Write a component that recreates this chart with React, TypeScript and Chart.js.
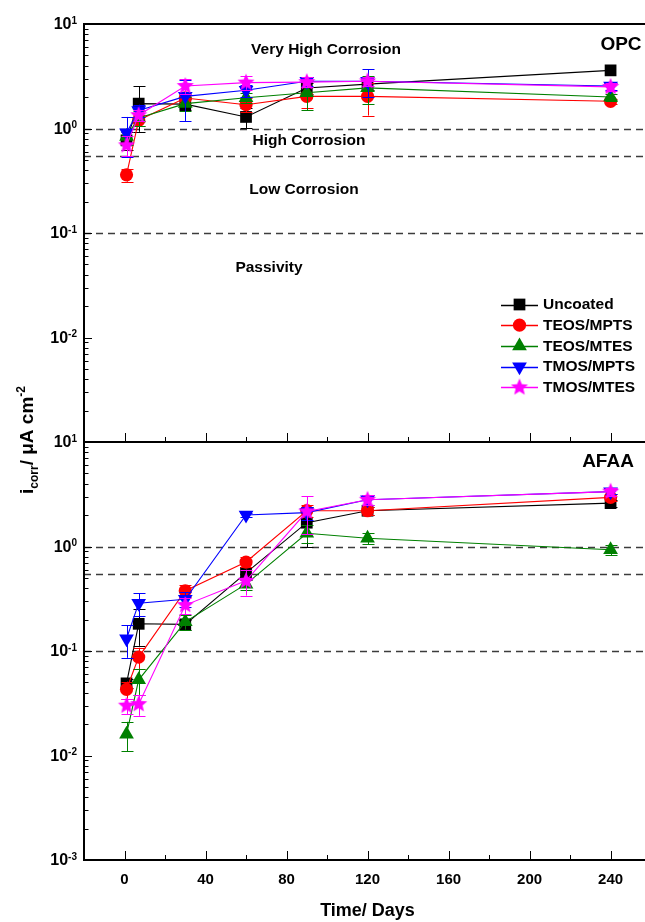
import React, { useEffect, useRef } from 'react';
import { Chart, registerables } from 'chart.js';

Chart.register(...registerables);

// ---------------- data ----------------
const days = [1, 7, 30, 60, 90, 120, 240];
const seriesNames = ['Uncoated', 'TEOS/MPTS', 'TEOS/MTES', 'TMOS/MPTS', 'TMOS/MTES'];

// OPC (top panel), icorr in µA/cm²
const opcUncoated = [0.77, 1.73, 1.71, 1.29, 2.44, 2.66, 3.6];
const opcTeosMpts = [0.36, 1.2, 1.96, 1.69, 2.03, 2.03, 1.82];
const opcTeosMtes = [0.84, 1.26, 1.73, 1.97, 2.2, 2.45, 2.0];
const opcTmosMpts = [0.91, 1.49, 2.03, 2.32, 2.83, 2.83, 2.55];
const opcTmosMtes = [0.69, 1.34, 2.55, 2.75, 2.78, 2.83, 2.5];

const opcErrUncoated = [0.15, 0.8, 0.2, 0.28, 0.3, 0.3, 0];
const opcErrTeosMpts = [0.05, 0.15, 0.2, 0.25, 0.45, 0.7, 0.1];
const opcErrTeosMtes = [0.15, 0.2, 0.25, 0.2, 0.7, 0.75, 0.15];
const opcErrTmosMpts = [0.38, 0.2, 0.85, 0.3, 0.3, 0.85, 0.2];
const opcErrTmosMtes = [0.15, 0.15, 0.4, 0.4, 0.3, 0.3, 0.2];

// AFAA (bottom panel)
const afaaUncoated = [0.049, 0.182, 0.18, 0.56, 1.69, 2.2, 2.6];
const afaaTeosMpts = [0.043, 0.0875, 0.377, 0.71, 2.2, 2.2, 2.95];
const afaaTeosMtes = [0.016, 0.053, 0.19, 0.436, 1.34, 1.2, 0.93];
const afaaTmosMpts = [0.131, 0.287, 0.313, 2.0, 2.11, 2.8, 3.35];
const afaaTmosMtes = [0.03, 0.031, 0.275, 0.469, 2.16, 2.8, 3.35];

const afaaErrUncoated = [0.005, 0.07, 0.02, 0.08, 0.7, 0.2, 0.2];
const afaaErrTeosMpts = [0.008, 0.02, 0.05, 0.08, 0.3, 0.2, 0.2];
const afaaErrTeosMtes = [0.005, 0.015, 0.03, 0.05, 0.25, 0.15, 0.1];
const afaaErrTmosMpts = [0.045, 0.07, 0.05, 0.1, 0.3, 0.3, 0.2];
const afaaErrTmosMtes = [0.005, 0.007, 0.05, 0.13, 0.85, 0.3, 0.3];

const xMajorTicks = [0, 40, 80, 120, 160, 200, 240];
const xMinorTicks = [20, 60, 100, 140, 180, 220];
const opcTickExps = [1, 0, -1, -2];
const afaaTickExps = [1, 0, -1, -2, -3];
const thresholds = [1, 0.55, 0.1];

const opcZones = ['Very High Corrosion', 'High Corrosion', 'Low Corrosion', 'Passivity'];
const panelNames = ['OPC', 'AFAA'];
const xTitle = 'Time/ Days';

// ---------------- styles ----------------
const FONT = '"Liberation Sans", Arial, sans-serif';
const colors = ['#000000', '#ff0000', '#008000', '#0000ff', '#ff00ff'];

function makeStar(color: string, r: number) {
  const c = document.createElement('canvas');
  const s = Math.ceil(r * 2 + 2);
  c.width = s;
  c.height = s;
  const g = c.getContext('2d')!;
  g.fillStyle = color;
  g.beginPath();
  for (let i = 0; i < 10; i++) {
    const rad = i % 2 === 0 ? r : r * 0.45;
    const a = -Math.PI / 2 + (i * Math.PI) / 5;
    g.lineTo(s / 2 + rad * Math.cos(a), s / 2 + rad * Math.sin(a));
  }
  g.closePath();
  g.fill();
  return c;
}

type Marker = { style: any; radius: number; rotation: number };

function markerStyles(): Marker[] {
  return [
    { style: 'rect', radius: 8.3, rotation: 0 },
    { style: 'circle', radius: 6.6, rotation: 0 },
    { style: 'triangle', radius: 8.5, rotation: 0 },
    { style: 'triangle', radius: 8.5, rotation: 180 },
    { style: makeStar(colors[4], 9), radius: 9, rotation: 0 },
  ];
}

function drawMarker(ctx: CanvasRenderingContext2D, m: Marker, x: number, y: number, color: string) {
  ctx.save();
  ctx.fillStyle = color;
  ctx.beginPath();
  if (m.style === 'rect') {
    const s = Math.SQRT1_2 * m.radius;
    ctx.rect(x - s, y - s, 2 * s, 2 * s);
    ctx.fill();
  } else if (m.style === 'circle') {
    ctx.arc(x, y, m.radius, 0, Math.PI * 2);
    ctx.fill();
  } else if (m.style === 'triangle') {
    let rad = (m.rotation * Math.PI) / 180;
    ctx.moveTo(x + Math.sin(rad) * m.radius, y - Math.cos(rad) * m.radius);
    rad += (2 * Math.PI) / 3;
    ctx.lineTo(x + Math.sin(rad) * m.radius, y - Math.cos(rad) * m.radius);
    rad += (2 * Math.PI) / 3;
    ctx.lineTo(x + Math.sin(rad) * m.radius, y - Math.cos(rad) * m.radius);
    ctx.closePath();
    ctx.fill();
  } else {
    const img = m.style as HTMLCanvasElement;
    ctx.drawImage(img, x - img.width / 2, y - img.height / 2);
  }
  ctx.restore();
}

export default function App() {
  const ref = useRef<HTMLCanvasElement>(null);

  useEffect(() => {
    const canvas = ref.current!;
    const markers = markerStyles();
    const opc = [opcUncoated, opcTeosMpts, opcTeosMtes, opcTmosMpts, opcTmosMtes];
    const opcErr = [opcErrUncoated, opcErrTeosMpts, opcErrTeosMtes, opcErrTmosMpts, opcErrTmosMtes];
    const afaa = [afaaUncoated, afaaTeosMpts, afaaTeosMtes, afaaTmosMpts, afaaTmosMtes];
    const afaaErr = [afaaErrUncoated, afaaErrTeosMpts, afaaErrTeosMtes, afaaErrTmosMpts, afaaErrTmosMtes];

    const mk = (vals: number[], errs: number[], i: number, axis: string) => ({
      label: seriesNames[i],
      data: days.map((d, k) => ({ x: d, y: vals[k] })),
      errors: errs,
      yAxisID: axis,
      xAxisID: 'x',
      borderColor: colors[i],
      backgroundColor: colors[i],
      borderWidth: 1.1,
      pointStyle: markers[i].style,
      pointRadius: markers[i].radius,
      pointRotation: markers[i].rotation,
      pointBorderWidth: 0,
      pointBorderColor: colors[i],
      pointBackgroundColor: colors[i],
      tension: 0,
      order: 4 - i,
    });

    const datasets: any[] = [];
    for (let i = 0; i < 5; i++) datasets.push(mk(opc[i], opcErr[i], i, 'yTop'));
    for (let i = 0; i < 5; i++) datasets.push(mk(afaa[i], afaaErr[i], i, 'yBot'));

    const decor = {
      id: 'decor',
      beforeDatasetsDraw(chart: any) {
        const { ctx, chartArea } = chart;
        ctx.save();
        ctx.strokeStyle = '#3c3c3c';
        ctx.lineWidth = 1.4;
        ctx.setLineDash([7, 5]);
        for (const id of ['yTop', 'yBot']) {
          const s = chart.scales[id];
          for (const t of thresholds) {
            const py = Math.round(s.getPixelForValue(t)) + 0.5;
            ctx.beginPath();
            ctx.moveTo(chartArea.left, py);
            ctx.lineTo(chartArea.right, py);
            ctx.stroke();
          }
        }
        ctx.restore();
      },
      beforeDatasetDraw(chart: any, args: any) {
        const { ctx } = chart;
        const ds = chart.data.datasets[args.index];
        const meta = args.meta;
        const ys = chart.scales[meta.yAxisID];
        ctx.save();
        ctx.strokeStyle = ds.borderColor;
        ctx.lineWidth = 1;
        meta.data.forEach((pt: any, k: number) => {
          const v = ds.data[k].y;
          const e = ds.errors[k];
          if (!e) return;
          const top = ys.getPixelForValue(v + e);
          const bot = ys.getPixelForValue(Math.max(v - e, 1e-4));
          const x = Math.round(pt.x) + 0.5;
          ctx.beginPath();
          ctx.moveTo(x, top);
          ctx.lineTo(x, bot);
          ctx.moveTo(x - 6, Math.round(top) + 0.5);
          ctx.lineTo(x + 6, Math.round(top) + 0.5);
          ctx.moveTo(x - 6, Math.round(bot) + 0.5);
          ctx.lineTo(x + 6, Math.round(bot) + 0.5);
          ctx.stroke();
        });
        ctx.restore();
      },
      afterDraw(chart: any) {
        const { ctx, chartArea } = chart;
        const xs = chart.scales.x;
        const yT = chart.scales.yTop;
        const yB = chart.scales.yBot;
        const L = chartArea.left;
        const R = chartArea.right;
        ctx.save();
        ctx.strokeStyle = '#000';
        ctx.fillStyle = '#000';

        // y ticks (inward)
        ctx.lineWidth = 1;
        for (const s of [yT, yB]) {
          for (let e = -3; e <= 1; e++) {
            for (let m = 1; m < 10; m++) {
              if (e === 1 && m > 1) break;
              const py = Math.round(s.getPixelForValue(m * Math.pow(10, e))) + 0.5;
              const len = m === 1 ? 8 : 4.5;
              ctx.beginPath();
              ctx.moveTo(L, py);
              ctx.lineTo(L + len, py);
              ctx.stroke();
            }
          }
        }
        // x ticks (inward, at bottom of each panel)
        for (const s of [yT, yB]) {
          const by = s.bottom;
          for (const t of xMajorTicks) {
            const px = Math.round(xs.getPixelForValue(t)) + 0.5;
            ctx.beginPath();
            ctx.moveTo(px, by);
            ctx.lineTo(px, by - 9);
            ctx.stroke();
          }
          for (const t of xMinorTicks) {
            const px = Math.round(xs.getPixelForValue(t)) + 0.5;
            ctx.beginPath();
            ctx.moveTo(px, by);
            ctx.lineTo(px, by - 5);
            ctx.stroke();
          }
        }

        // frame
        ctx.lineWidth = 2;
        ctx.beginPath();
        ctx.moveTo(L, yT.top);
        ctx.lineTo(L, yB.bottom);
        ctx.moveTo(L - 1, yT.top);
        ctx.lineTo(R, yT.top);
        ctx.moveTo(L - 1, yT.bottom);
        ctx.lineTo(R, yT.bottom);
        ctx.moveTo(L - 1, yB.bottom);
        ctx.lineTo(R, yB.bottom);
        ctx.stroke();

        // y tick labels 10^n
        const drawPow = (s: any, exps: number[]) => {
          for (const e of exps) {
            const py = s.getPixelForValue(Math.pow(10, e));
            const sup = String(e);
            ctx.font = `bold 10px ${FONT}`;
            const wSup = ctx.measureText(sup).width;
            ctx.font = `bold 16px ${FONT}`;
            const wBase = ctx.measureText('10').width;
            const right = 77;
            ctx.textAlign = 'left';
            ctx.textBaseline = 'middle';
            ctx.fillText('10', right - wSup - wBase, py + 1);
            ctx.font = `bold 10px ${FONT}`;
            ctx.textBaseline = 'alphabetic';
            ctx.fillText(sup, right - wSup, py - 0.5);
          }
        };
        drawPow(yT, opcTickExps);
        drawPow(yB, afaaTickExps);

        // x tick labels
        ctx.font = `bold 15px ${FONT}`;
        ctx.textAlign = 'center';
        ctx.textBaseline = 'middle';
        for (const t of xMajorTicks) {
          ctx.fillText(String(t), xs.getPixelForValue(t), yB.bottom + 20);
        }
        // x title
        ctx.font = `bold 18px ${FONT}`;
        ctx.textBaseline = 'alphabetic';
        ctx.fillText(xTitle, (L + R) / 2 + 3, yB.bottom + 56);

        // y title (rotated)
        ctx.save();
        ctx.translate(33, (yT.top + yB.bottom) / 2 - 2);
        ctx.rotate(-Math.PI / 2);
        const parts: [string, number, number][] = [
          ['i', 19, 0],
          ['corr', 12, 5],
          ['/ \u03bcA cm', 19, 0],
          ['-2', 12, -8],
        ];
        let total = 0;
        for (const [t, sz] of parts) {
          ctx.font = `bold ${sz}px ${FONT}`;
          total += ctx.measureText(t).width;
        }
        let cx = -total / 2;
        ctx.textAlign = 'left';
        ctx.textBaseline = 'alphabetic';
        for (const [t, sz, dy] of parts) {
          ctx.font = `bold ${sz}px ${FONT}`;
          ctx.fillText(t, cx, dy);
          cx += ctx.measureText(t).width;
        }
        ctx.restore();

        // zone labels
        ctx.font = `bold 15.5px ${FONT}`;
        ctx.textAlign = 'center';
        ctx.textBaseline = 'middle';
        ctx.fillText(opcZones[0], 326, 50);
        ctx.fillText(opcZones[1], 309, 141);
        ctx.fillText(opcZones[2], 304, 190);
        ctx.fillText(opcZones[3], 269, 268);

        // panel names
        ctx.font = `bold 19px ${FONT}`;
        ctx.fillText(panelNames[0], 621, 45);
        ctx.fillText(panelNames[1], 608, 462);

        // legend
        const rowY = [304.5, 325.2, 346, 366.7, 387.4];
        for (let i = 0; i < 5; i++) {
          const y = rowY[i];
          ctx.strokeStyle = colors[i];
          ctx.lineWidth = 1.5;
          ctx.beginPath();
          ctx.moveTo(501, Math.round(y) + 0.5);
          ctx.lineTo(538, Math.round(y) + 0.5);
          ctx.stroke();
          drawMarker(ctx, markers[i], 519.5, y, colors[i]);
          ctx.fillStyle = '#000';
          ctx.font = `bold 15.5px ${FONT}`;
          ctx.textAlign = 'left';
          ctx.textBaseline = 'middle';
          ctx.fillText(seriesNames[i], 543, y + 0.5);
        }
        ctx.restore();
      },
    };

    const hidden = {
      ticks: { display: false },
      grid: { display: false, drawTicks: false },
      border: { display: false },
    };

    const chart = new Chart(canvas, {
      type: 'line',
      data: { datasets },
      options: {
        animation: false,
        responsive: false,
        maintainAspectRatio: false,
        layout: { autoPadding: false, padding: { left: 84, top: 24, right: 0, bottom: 62 } },
        plugins: { legend: { display: false }, tooltip: { enabled: false } },
        scales: {
          x: {
            type: 'linear',
            min: -20,
            max: 257,
            ...hidden,
            afterFit: (s: any) => {
              s.height = 0;
            },
          },
          yBot: {
            type: 'logarithmic',
            position: 'left',
            stack: 'panels',
            stackWeight: 1,
            min: 0.001,
            max: 10,
            ...hidden,
            afterFit: (s: any) => {
              s.width = 0;
            },
          },
          yTop: {
            type: 'logarithmic',
            position: 'left',
            stack: 'panels',
            stackWeight: 1,
            min: 0.001,
            max: 10,
            ...hidden,
            afterFit: (s: any) => {
              s.width = 0;
            },
          },
        },
      } as any,
      plugins: [decor],
    });
    return () => chart.destroy();
  }, []);

  return (
    <div style={{ position: 'absolute', left: 0, top: 0, width: 645, height: 922, background: '#fff' }}>
      <canvas ref={ref} width={645} height={922} style={{ display: 'block' }} />
    </div>
  );
}
